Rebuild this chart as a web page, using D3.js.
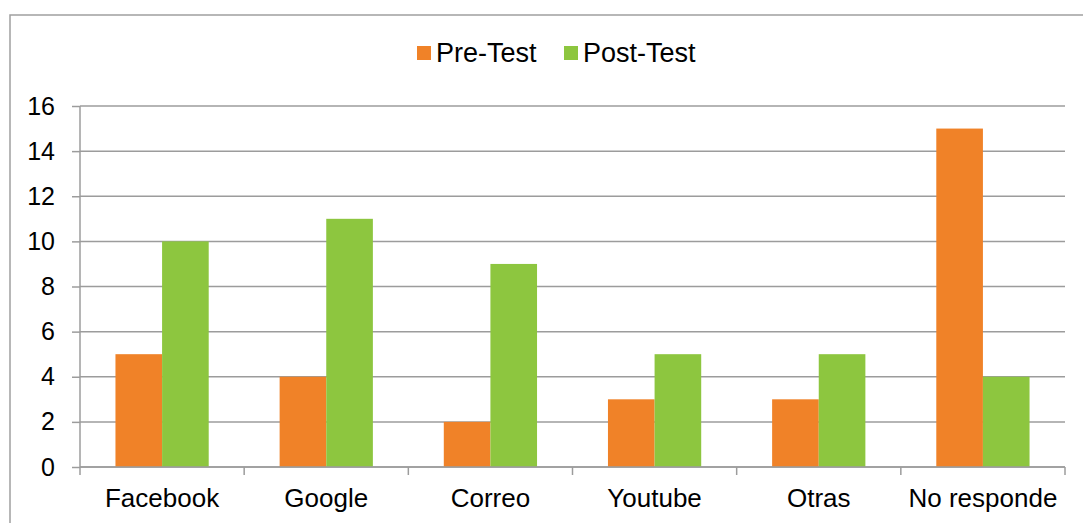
<!DOCTYPE html>
<html>
<head>
  <style>
    body { margin: 0; background: #fff; }
    svg text { font-family: "Liberation Sans", Arial, sans-serif; fill: #000; }
  </style>
</head>
<body>
<svg width="1083" height="523"></svg>
<script src="https://d3js.org/d3.v7.min.js"></script>
<script>
  var categories = ['Facebook', 'Google', 'Correo', 'Youtube', 'Otras', 'No responde']
  var series = ['Pre-Test', 'Post-Test']
  var preTest = [5, 4, 2, 3, 3, 15]
  var postTest = [10, 11, 9, 5, 5, 4]
  var yTicks = [0, 2, 4, 6, 8, 10, 12, 14, 16]
  var colors = ['#f08228', '#8dc63f']

  var svg = d3.select('svg'),
    margin = {top: 106, right: 18, bottom: 56, left: 80},
    width = +svg.attr('width') - margin.left - margin.right,
    height = +svg.attr('height') - margin.top - margin.bottom

  // outer frame (top and left edges visible)
  svg.append('path')
    .attr('d', 'M10,523V15H1083')
    .attr('fill', 'none')
    .attr('stroke', '#a0a0a0')
    .attr('stroke-width', 1.5)

  var g = svg.append('g').attr('transform', 'translate(' + margin.left + ',' + margin.top + ')')

  var x0 = d3.scaleBand().domain(categories).range([0, width]).paddingInner(0.432).paddingOuter(0.216)
  var x1 = d3.scaleBand().domain(series).range([0, x0.bandwidth()])
  var y = d3.scaleLinear().domain([0, 16]).range([height, 0])

  // gridlines
  g.append('g')
    .selectAll('line')
    .data(yTicks)
    .enter().append('line')
    .attr('x1', 0)
    .attr('x2', width)
    .attr('y1', function (d) { return y(d) })
    .attr('y2', function (d) { return y(d) })
    .attr('stroke', '#9c9c9c')
    .attr('stroke-width', 1.5)

  var values = [preTest, postTest]
  series.forEach(function (s, si) {
    g.append('g')
      .selectAll('rect')
      .data(values[si])
      .enter().append('rect')
      .attr('x', function (d, i) { return x0(categories[i]) + x1(s) })
      .attr('y', function (d) { return y(d) })
      .attr('width', x1.bandwidth())
      .attr('height', function (d) { return height - y(d) })
      .attr('fill', colors[si])
  })

  // y axis
  var yAxis = g.append('g')
    .call(d3.axisLeft(y).tickValues(yTicks).tickSize(8).tickPadding(17))
  yAxis.selectAll('line, path').attr('stroke', '#9c9c9c').attr('stroke-width', 1.5)
  yAxis.select('.domain').attr('d', 'M0,' + height + 'V0')
  yAxis.selectAll('text').style('font-size', '25px').attr('font-family', null)

  // x axis: ticks at category boundaries
  var xAxis = g.append('g').attr('transform', 'translate(0,' + height + ')')
  xAxis.append('line').attr('x1', 0).attr('x2', width)
    .attr('stroke', '#9c9c9c').attr('stroke-width', 1.5)
  var step = width / categories.length
  xAxis.selectAll('.tick')
    .data(d3.range(categories.length + 1))
    .enter().append('line')
    .attr('x1', function (d) { return d * step })
    .attr('x2', function (d) { return d * step })
    .attr('y1', 0).attr('y2', 8)
    .attr('stroke', '#9c9c9c').attr('stroke-width', 1.5)
  xAxis.selectAll('text')
    .data(categories)
    .enter().append('text')
    .attr('x', function (d) { return x0(d) + x0.bandwidth() / 2 })
    .attr('y', 40)
    .attr('text-anchor', 'middle')
    .style('font-size', '26px')
    .text(function (d) { return d })

  // legend
  var legend = svg.append('g')
  var lx = [417, 564]
  series.forEach(function (s, i) {
    legend.append('rect')
      .attr('x', lx[i]).attr('y', 46).attr('width', 14).attr('height', 14)
      .attr('fill', colors[i])
    legend.append('text')
      .attr('x', lx[i] + 19).attr('y', 62)
      .style('font-size', '27px')
      .text(s)
  })
</script>
</body>
</html>
